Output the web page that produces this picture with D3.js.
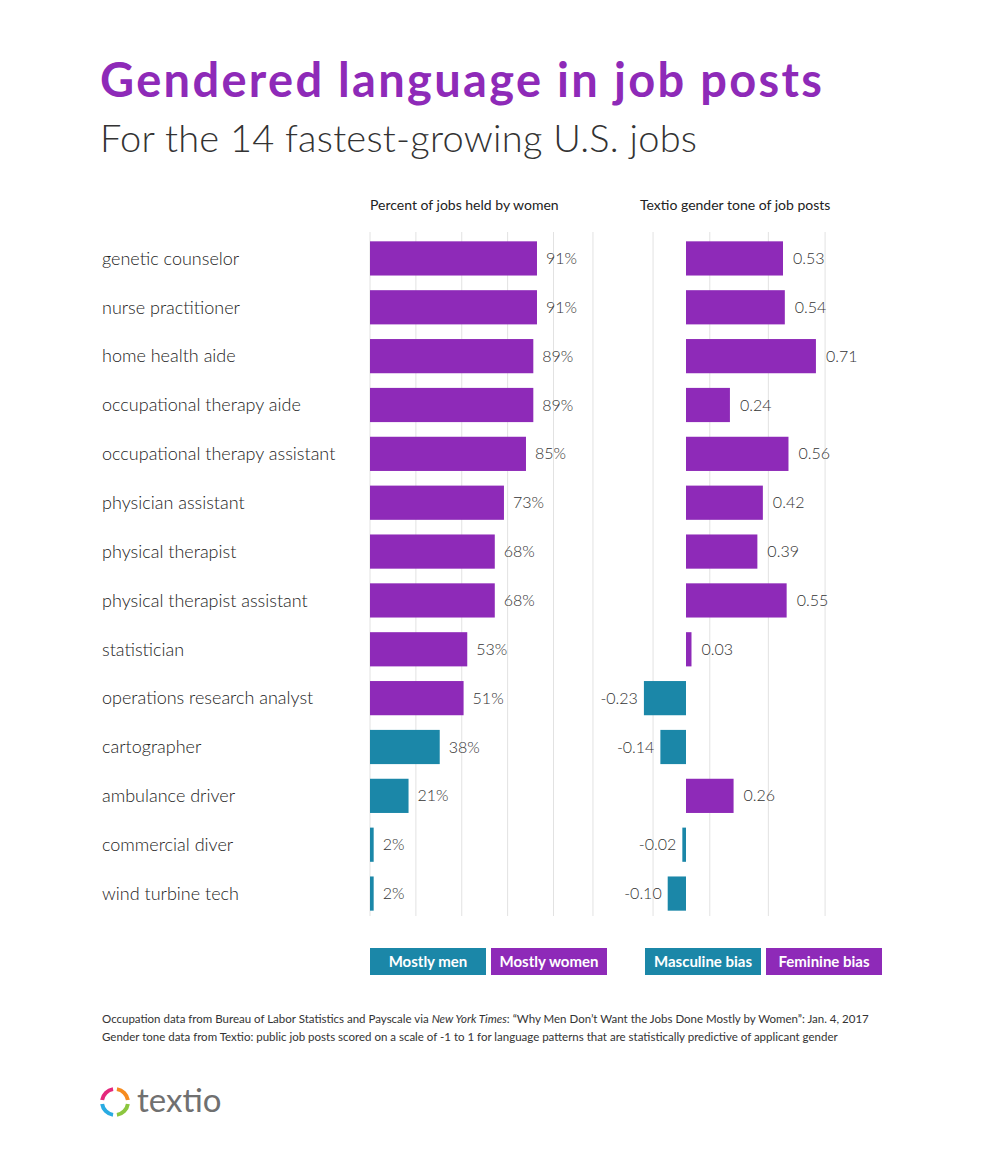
<!DOCTYPE html>
<html><head><meta charset="utf-8">
<script src="https://cdn.jsdelivr.net/npm/d3@7"></script>
<style>body{margin:0;background:#fff}text{font-family:Lato,"Open Sans",sans-serif}</style>
</head><body>
<svg id="chart" width="1000" height="1172"></svg>
<script>
const jobs = ["genetic counselor","nurse practitioner","home health aide","occupational therapy aide","occupational therapy assistant","physician assistant","physical therapist","physical therapist assistant","statistician","operations research analyst","cartographer","ambulance driver","commercial diver","wind turbine tech"];
const pctWomen = [91,91,89,89,85,73,68,68,53,51,38,21,2,2];
const tone = [0.53,0.54,0.71,0.24,0.56,0.42,0.39,0.55,0.03,-0.23,-0.14,0.26,-0.02,-0.10];
const pctGrid = [0,25,50,75,100,121.5];
const toneGrid = [-0.18,0.13,0.45,0.76];

const PURPLE = "#8e2ab8", TEAL = "#1b87a8";
const svg = d3.select("#chart");

svg.append("text").attr("x",100).attr("y",97).attr("fill",PURPLE)
   .attr("font-size",47).attr("font-weight",700).attr("textLength",722).text("Gendered language in job posts");
svg.append("text").attr("x",100).attr("y",152).attr("fill","#333")
   .attr("font-size",38).attr("font-weight",300).attr("textLength",597).text("For the 14 fastest-growing U.S. jobs");

const y = d3.scaleBand().domain(jobs).range([234,918]).paddingInner(0.3).paddingOuter(0.15);
const xP = d3.scaleLinear().domain([0,100]).range([370,553.5]);
const xT = d3.scaleLinear().domain([0,1]).range([686,869]);

svg.append("text").attr("x",370).attr("y",210).attr("font-size",14).attr("fill","#222").text("Percent of jobs held by women");
svg.append("text").attr("x",640).attr("y",210).attr("font-size",14).attr("fill","#222").text("Textio gender tone of job posts");

const grid = svg.append("g").attr("stroke","#e2e2e2").attr("stroke-width",1);
grid.selectAll(".gp").data(pctGrid).join("line").attr("x1",d=>xP(d)).attr("x2",d=>xP(d)).attr("y1",232).attr("y2",916);
grid.selectAll(".gt").data(toneGrid).join("line").attr("x1",d=>xT(d)).attr("x2",d=>xT(d)).attr("y1",232).attr("y2",916);

svg.selectAll(".lbl").data(jobs).join("text")
   .attr("x",102).attr("y",d=>y(d)+y.bandwidth()/2).attr("dy","0.35em")
   .attr("font-size",18).attr("font-weight",300).attr("fill","#222").text(d=>d);

const rows = jobs.map((j,i)=>({j,p:pctWomen[i],t:tone[i]}));

svg.selectAll(".bp").data(rows).join("rect")
   .attr("x",xP(0)).attr("y",d=>y(d.j)).attr("height",y.bandwidth())
   .attr("width",d=>Math.max(2.5,xP(d.p)-xP(0)))
   .attr("fill",d=>d.p>50?PURPLE:TEAL);
svg.selectAll(".vp").data(rows).join("text")
   .attr("x",d=>Math.max(xP(d.p),xP(0)+3)+9).attr("y",d=>y(d.j)+y.bandwidth()/2).attr("dy","0.35em")
   .attr("font-size",16).attr("font-weight",300).attr("fill","#333").text(d=>d.p+"%");

svg.selectAll(".bt").data(rows).join("rect")
   .attr("x",d=>Math.min(xT(0),xT(d.t))).attr("y",d=>y(d.j)).attr("height",y.bandwidth())
   .attr("width",d=>Math.max(2.5,Math.abs(xT(d.t)-xT(0))))
   .attr("fill",d=>d.t>0?PURPLE:TEAL);
svg.selectAll(".vt").data(rows).join("text")
   .attr("x",d=>d.t>0?xT(d.t)+10:Math.min(xT(d.t),xT(0)-3)-6)
   .attr("text-anchor",d=>d.t>0?"start":"end")
   .attr("y",d=>y(d.j)+y.bandwidth()/2).attr("dy","0.35em")
   .attr("font-size",16).attr("font-weight",300).attr("fill","#333")
   .text(d=>d.t.toFixed(2));

const legend = [["Mostly men",TEAL,370],["Mostly women",PURPLE,491],["Masculine bias",TEAL,645],["Feminine bias",PURPLE,766]];
const lg = svg.selectAll(".lg").data(legend).join("g");
lg.append("rect").attr("x",d=>d[2]).attr("y",948).attr("width",116).attr("height",27).attr("fill",d=>d[1]);
lg.append("text").attr("x",d=>d[2]+58).attr("y",962).attr("dy","0.35em").attr("text-anchor","middle")
  .attr("fill","#fff").attr("font-size",15).attr("font-weight",700).text(d=>d[0]);

const src = svg.append("g").attr("font-size",11.5).attr("fill","#333");
const t1 = src.append("text").attr("x",102).attr("y",1023);
t1.append("tspan").text("Occupation data from Bureau of Labor Statistics and Payscale via ");
t1.append("tspan").attr("font-style","italic").text("New York Times");
t1.append("tspan").text(": \u201cWhy Men Don\u2019t Want the Jobs Done Mostly by Women\u201d: Jan. 4, 2017");
src.append("text").attr("x",102).attr("y",1041).text("Gender tone data from Textio: public job posts scored on a scale of -1 to 1 for language patterns that are statistically predictive of applicant gender");

// logo
const arc = d3.arc().innerRadius(11).outerRadius(15);
const logoCols = ["#f68b1f","#8cc63f","#29abe2","#e4287c"];
const lgo = svg.append("g").attr("transform","translate(115,1102)");
logoCols.forEach((c,i)=>lgo.append("path").attr("fill",c)
  .attr("d",arc({startAngle:i*Math.PI/2+0.15,endAngle:(i+1)*Math.PI/2-0.15})));
svg.append("text").attr("x",137).attr("y",1112).attr("font-size",33).attr("fill","#707070").text("textio");
</script>
</body></html>
